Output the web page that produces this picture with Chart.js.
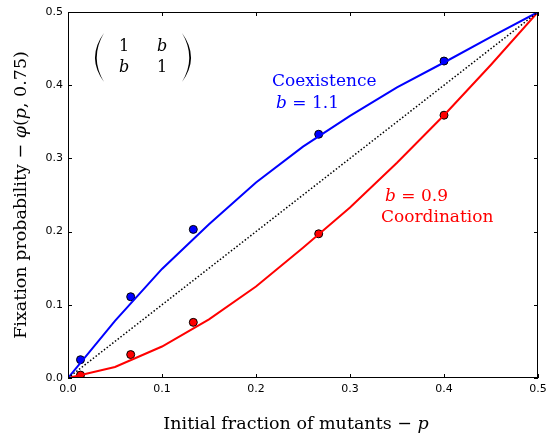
<!DOCTYPE html>
<html>
<head>
<meta charset="utf-8">
<script src="https://cdn.jsdelivr.net/npm/chart.js@4"></script>
<style>
  html, body { margin: 0; padding: 0; background: #fff; }
  #wrap { width: 548px; height: 434px; position: relative; }
</style>
</head>
<body>
<div id="wrap"><canvas id="fixChart"></canvas></div>
<script>
// valores
const pLine = [0, 0.05, 0.1, 0.15, 0.2, 0.25, 0.3, 0.35, 0.4, 0.45, 0.5];
const coexLine = [0, 0.078, 0.149, 0.21, 0.267, 0.316, 0.358, 0.397, 0.431, 0.466, 0.5];
const coordLine = [0, 0.015, 0.043, 0.08, 0.125, 0.178, 0.233, 0.294, 0.359, 0.428, 0.5];
const pSim = [0.0133, 0.0667, 0.1333, 0.2667, 0.4];
const coexSim = [0.025, 0.111, 0.203, 0.333, 0.433];
const coordSim = [0.004, 0.032, 0.076, 0.197, 0.359];
const tickVals = [0, 0.1, 0.2, 0.3, 0.4, 0.5];

function toPts(xs, ys) {
    return xs.map(function(x, i) { return {x: x, y: ys[i]}; });
}

const SERIF = '"DejaVu Serif", serif';

// dibuja texto con partes en cursiva
function drawRuns(ctx, runs, x, y, size, color, align) {
    var total = 0;
    runs.forEach(function(r) {
        ctx.font = (r[1] ? 'italic ' : '') + size + 'px ' + SERIF;
        total += ctx.measureText(r[0]).width;
    });
    var cx = align === 'center' ? x - total / 2 : x;
    ctx.fillStyle = color;
    ctx.textAlign = 'left';
    ctx.textBaseline = 'middle';
    runs.forEach(function(r) {
        ctx.font = (r[1] ? 'italic ' : '') + size + 'px ' + SERIF;
        ctx.fillText(r[0], cx, y);
        cx += ctx.measureText(r[0]).width;
    });
}

const decoPlugin = {
    id: 'deco',
    afterDraw: function(chart) {
        const ctx = chart.ctx;
        const a = chart.chartArea;
        const xs = chart.scales.x, ys = chart.scales.y;
        ctx.save();
        // marco
        ctx.strokeStyle = '#000';
        ctx.lineWidth = 1;
        ctx.strokeRect(a.left + 0.5, a.top + 0.5, a.right - a.left - 1, a.bottom - a.top - 1);
        // ticks hacia adentro
        ctx.beginPath();
        tickVals.forEach(function(v) {
            var px = Math.round(xs.getPixelForValue(v)) + 0.5;
            ctx.moveTo(px, a.bottom); ctx.lineTo(px, a.bottom - 4);
            ctx.moveTo(px, a.top); ctx.lineTo(px, a.top + 4);
            var py = Math.round(ys.getPixelForValue(v)) + 0.5;
            ctx.moveTo(a.left, py); ctx.lineTo(a.left + 4, py);
            ctx.moveTo(a.right, py); ctx.lineTo(a.right - 4, py);
        });
        ctx.stroke();

        // titulos de ejes
        drawRuns(ctx, [['Initial fraction of mutants \u2212 ', false], ['p', true]],
            296, 424, 17.5, '#000', 'center');
        ctx.save();
        ctx.translate(21, 195);
        ctx.rotate(-Math.PI / 2);
        drawRuns(ctx, [['Fixation probability \u2212 ', false], ['\u03c6', true], ['(', false], ['p', true], [', 0.75)', false]],
            0, 0, 17.5, '#000', 'center');
        ctx.restore();

        // matriz: parentesis finos
        ctx.fillStyle = '#000';
        ctx.beginPath();
        ctx.moveTo(104, 33); ctx.quadraticCurveTo(86, 57.5, 104, 82);
        ctx.quadraticCurveTo(89.5, 57.5, 104, 33);
        ctx.fill();
        ctx.beginPath();
        ctx.moveTo(182, 33); ctx.quadraticCurveTo(200, 57.5, 182, 82);
        ctx.quadraticCurveTo(196.5, 57.5, 182, 33);
        ctx.fill();
        ctx.textBaseline = 'middle';
        ctx.textAlign = 'center';
        ctx.font = '16px ' + SERIF;
        ctx.fillText('1', 124, 47);
        ctx.fillText('1', 162, 68);
        ctx.font = 'italic 16px ' + SERIF;
        ctx.fillText('b', 162, 47);
        ctx.fillText('b', 124, 68);

        // anotaciones
        drawRuns(ctx, [['Coexistence', false]], 272, 82, 17, '#0000ff', 'left');
        drawRuns(ctx, [['b', true], [' = 1.1', false]], 276, 104, 17, '#0000ff', 'left');
        drawRuns(ctx, [['b', true], [' = 0.9', false]], 385, 197, 17, '#ff0000', 'left');
        drawRuns(ctx, [['Coordination', false]], 381, 218, 17, '#ff0000', 'left');
        ctx.restore();
    }
};

const ctx = document.getElementById('fixChart').getContext('2d');
new Chart(ctx, {
    type: 'scatter',
    data: {
        datasets: [
            {
                data: toPts([0, 0.5], [0, 0.5]),
                showLine: true, borderColor: '#000', borderWidth: 1.5,
                borderDash: [1.5, 2], pointRadius: 0
            },
            {
                data: toPts(pLine, coexLine),
                showLine: true, borderColor: '#0000ff', borderWidth: 2, pointRadius: 0
            },
            {
                data: toPts(pLine, coordLine),
                showLine: true, borderColor: '#ff0000', borderWidth: 2, pointRadius: 0
            },
            {
                data: toPts(pSim, coexSim),
                backgroundColor: '#0000ff', borderColor: '#000', borderWidth: 1, pointRadius: 4
            },
            {
                data: toPts(pSim, coordSim),
                backgroundColor: '#ff0000', borderColor: '#000', borderWidth: 1, pointRadius: 4
            }
        ]
    },
    options: {
        responsive: true,
        maintainAspectRatio: false,
        animation: false,
        layout: { padding: { top: 12, right: 10, left: 0, bottom: 0 } },
        plugins: { legend: { display: false }, tooltip: { enabled: false } },
        scales: {
            x: {
                type: 'linear', min: 0, max: 0.5,
                grid: { display: false, drawTicks: false },
                border: { display: false },
                afterBuildTicks: function(s) { s.ticks = tickVals.map(function(v) { return {value: v}; }); },
                afterFit: function(s) { s.height = 56; s.paddingLeft = 0; s.paddingRight = 0; },
                ticks: {
                    color: '#000', padding: 5, maxRotation: 0,
                    font: { family: '"DejaVu Sans", sans-serif', size: 11 },
                    callback: function(v) { return v.toFixed(1); }
                }
            },
            y: {
                type: 'linear', min: 0, max: 0.5,
                grid: { display: false, drawTicks: false },
                border: { display: false },
                afterBuildTicks: function(s) { s.ticks = tickVals.map(function(v) { return {value: v}; }); },
                afterFit: function(s) { s.width = 68; s.paddingTop = 0; s.paddingBottom = 0; },
                ticks: {
                    color: '#000', padding: 5,
                    font: { family: '"DejaVu Sans", sans-serif', size: 11 },
                    callback: function(v) { return v.toFixed(1); }
                }
            }
        }
    },
    plugins: [decoPlugin]
});
</script>
</body>
</html>
